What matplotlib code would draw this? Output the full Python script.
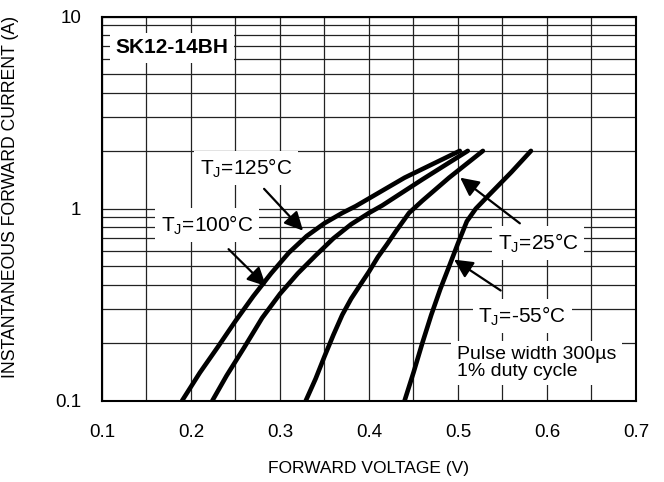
import matplotlib
matplotlib.use("Agg")
import matplotlib.pyplot as plt
from matplotlib.ticker import FixedLocator, NullFormatter

plt.rcParams['font.family'] = ['Liberation Sans', 'DejaVu Sans']
plt.rcParams['mathtext.fontset'] = 'custom'
plt.rcParams['mathtext.rm'] = 'Liberation Sans'

# forward voltage (V) / current (A)
v_125 = [0.19, 0.21, 0.23, 0.25, 0.27, 0.29, 0.31, 0.33, 0.35, 0.37, 0.385, 0.44, 0.502]
i_125 = [0.1, 0.14, 0.19, 0.26, 0.35, 0.46, 0.59, 0.72, 0.84, 0.95, 1.03, 1.45, 2.0]
v_100 = [0.224, 0.24, 0.26, 0.28, 0.30, 0.32, 0.34, 0.36, 0.38, 0.40, 0.415, 0.46, 0.511]
i_100 = [0.1, 0.135, 0.19, 0.27, 0.36, 0.46, 0.57, 0.70, 0.83, 0.95, 1.04, 1.42, 2.0]
v_25 = [0.329, 0.34, 0.35, 0.36, 0.37, 0.38, 0.39, 0.40, 0.41, 0.42, 0.43, 0.445, 0.46, 0.49, 0.528]
i_25 = [0.1, 0.13, 0.17, 0.22, 0.28, 0.34, 0.40, 0.47, 0.56, 0.65, 0.76, 0.95, 1.1, 1.45, 2.0]
v_m55 = [0.44, 0.45, 0.46, 0.47, 0.48, 0.49, 0.50, 0.51, 0.52, 0.535, 0.56, 0.582]
i_m55 = [0.1, 0.14, 0.2, 0.28, 0.38, 0.5, 0.66, 0.86, 1.0, 1.18, 1.55, 2.0]

x_ticks = [0.1, 0.2, 0.3, 0.4, 0.5, 0.6, 0.7]
x_labels = ['0.1', '0.2', '0.3', '0.4', '0.5', '0.6', '0.7']
y_ticks = [0.1, 1, 10]
y_labels = ['0.1', '1', '10']

fig = plt.figure(figsize=(6.64, 4.82), dpi=100)
ax = fig.add_axes([0.1536, 0.1687, 0.8042, 0.7967])

# curves
for v, i in [(v_125, i_125), (v_100, i_100), (v_25, i_25), (v_m55, i_m55)]:
    ax.plot(v, i, color='black', lw=3.3, solid_capstyle='round',
            solid_joinstyle='round', zorder=3)

ax.set_yscale('log')
ax.set_xlim(0.1, 0.7)
ax.set_ylim(0.1, 10)
ax.set_xticks(x_ticks)
ax.set_xticklabels(x_labels)
ax.set_yticks(y_ticks)
ax.set_yticklabels(y_labels)
ax.xaxis.set_minor_locator(FixedLocator([0.15, 0.25, 0.35, 0.45, 0.55, 0.65]))
ax.yaxis.set_minor_locator(FixedLocator([m * d for d in (0.1, 1) for m in range(2, 10)]))
ax.yaxis.set_minor_formatter(NullFormatter())
ax.tick_params(which='both', length=0, labelsize=13.5)
ax.tick_params(axis='x', pad=17)
ax.tick_params(axis='y', pad=15)
ax.grid(True, which='both', color='#222222', lw=0.9)
for s in ax.spines.values():
    s.set_linewidth(1.5)

ax.set_xlabel('FORWARD VOLTAGE (V)', fontsize=12.5, labelpad=14)
ax.set_ylabel('INSTANTANEOUS FORWARD CURRENT (A)', fontsize=12.7)
ax.yaxis.set_label_coords(-0.155, 0.53)

box = dict(facecolor='white', edgecolor='none', pad=4)
arrow = dict(arrowstyle='-|>', color='black', lw=1.6, mutation_scale=28)

ax.text(0.179, 6.87, 'SK12-14BH', fontsize=15, fontweight='bold',
        ha='center', va='center', bbox=box, zorder=4)

ax.annotate('', xy=(0.328, 0.75), xytext=(0.28, 1.30), arrowprops=arrow, zorder=4)
ax.text(0.262, 1.63, 'T$_\\mathregular{J}$=125°C', fontsize=15,
        ha='center', va='center', bbox=box, zorder=4)

ax.annotate('', xy=(0.2865, 0.386), xytext=(0.24, 0.63), arrowprops=arrow, zorder=4)
ax.text(0.218, 0.822, 'T$_\\mathregular{J}$=100°C', fontsize=15,
        ha='center', va='center', bbox=box, zorder=4)

ax.annotate('', xy=(0.50, 1.48), xytext=(0.572, 0.822), arrowprops=arrow, zorder=4)
ax.text(0.59, 0.663, 'T$_\\mathregular{J}$=25°C', fontsize=15,
        ha='center', va='center', bbox=box, zorder=4)

ax.annotate('', xy=(0.493, 0.553), xytext=(0.5506, 0.368), arrowprops=arrow, zorder=4)
ax.text(0.572, 0.276, 'T$_\\mathregular{J}$=-55°C', fontsize=15,
        ha='center', va='center', bbox=box, zorder=4)

ax.text(0.499, 0.157, 'Pulse width 300µs\n1% duty cycle', fontsize=14,
        ha='left', va='center', linespacing=0.95, bbox=box, zorder=4)

fig.savefig('out.png', dpi=100)
